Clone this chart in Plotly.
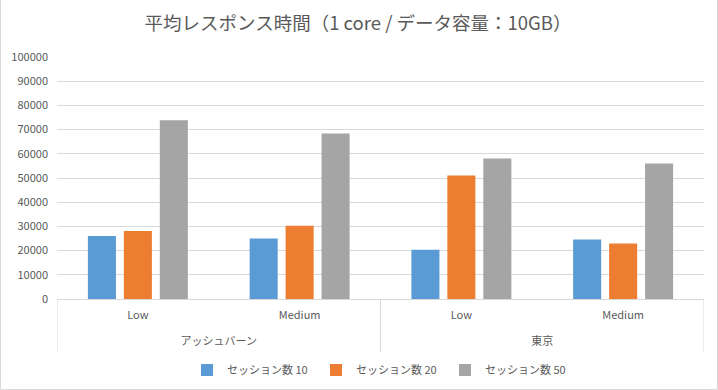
import plotly.graph_objects as go

regions = ["アッシュバーン", "アッシュバーン", "東京", "東京"]
loads = ["Low", "Medium", "Low", "Medium"]
series_names = ["セッション数 10", "セッション数 20", "セッション数 50"]
sess10 = [26000, 25000, 20400, 24600]
sess20 = [28100, 30300, 51000, 22900]
sess50 = [73900, 68400, 58100, 56000]
colors = ["#5B9BD5", "#ED7D31", "#A5A5A5"]
y_ticks = [0, 10000, 20000, 30000, 40000, 50000, 60000, 70000, 80000, 90000, 100000]

W, H = 718, 390
L, R, T, B = 57, 14, 57, 91
pw, ph = W - L - R, H - T - B

cats = [f"{r}|{l}" for r, l in zip(regions, loads)]
group_names = list(dict.fromkeys(regions))
group_pos = [sum(i for i, r in enumerate(regions) if r == g) / regions.count(g) for g in group_names]
bounds = [-0.5] + [i + 0.5 for i in range(len(regions) - 1) if regions[i] != regions[i + 1]] + [len(regions) - 0.5]

fig = go.Figure()
for name, vals, c in zip(series_names, [sess10, sess20, sess50], colors):
    fig.add_trace(go.Bar(x=cats, y=vals, name=name, marker=dict(color=c, line=dict(width=0))))
# invisible helper trace so the group-label axis is drawn
fig.add_trace(go.Scatter(x=group_pos, y=[0] * len(group_pos), xaxis="x2", mode="markers",
                         marker=dict(opacity=0), showlegend=False, hoverinfo="skip"))

font = "Noto Sans CJK JP, Noto Sans, sans-serif"
tf = dict(family=font, size=11, color="#595959")
fig.update_layout(
    width=W, height=H,
    margin=dict(l=L, r=R, t=T, b=B, autoexpand=False),
    paper_bgcolor="white", plot_bgcolor="white",
    barmode="group", bargap=0.333, bargroupgap=0.22,
    font=tf,
    title=dict(text="平均レスポンス時間（1 core / データ容量：10GB）",
               x=358 / W, xanchor="center", y=1 - 24 / H, yanchor="middle",
               font=dict(family=font, size=18.5, color="#595959")),
    showlegend=True,
    legend=dict(orientation="h", x=0.5, xanchor="center", y=-(370 - 299) / ph, yanchor="middle",
                font=tf, itemwidth=30, traceorder="normal",
                entrywidth=84, entrywidthmode="pixels"),
    yaxis=dict(range=[0, 100000], tickvals=y_ticks, ticktext=[str(v) for v in y_ticks],
               showgrid=True, gridcolor="#D9D9D9", gridwidth=1, automargin=False,
               zeroline=False, showline=False, ticks="", ticklabelstandoff=8, tickfont=tf),
    xaxis=dict(type="category", categoryorder="array", categoryarray=cats,
               range=[-0.5, len(cats) - 0.5], tickvals=cats, ticktext=loads,
               showline=True, linecolor="#D9D9D9", linewidth=1, automargin=False,
               ticks="", ticklabelstandoff=6, tickfont=tf, showgrid=False),
    xaxis2=dict(type="linear", overlaying="x", side="bottom", anchor="y",
                range=[-0.5, len(cats) - 0.5], tickvals=group_pos, ticktext=group_names,
                showline=False, showgrid=False, zeroline=False, ticks="", automargin=False,
                ticklabelstandoff=34, tickfont=tf),
)
for bx in bounds:
    fig.add_shape(type="line", xref="x2", yref="paper", x0=bx, x1=bx, y0=0, y1=-(352 - 299) / ph,
                  line=dict(color="#D9D9D9", width=1))
fig.add_shape(type="rect", xref="paper", yref="paper",
              x0=(0.5 - L) / pw, x1=(W - 0.5 - L) / pw,
              y0=-(H - 0.5 - T - ph) / ph, y1=(H - 0.5 - T) / ph,
              line=dict(color="#D9D9D9", width=1), fillcolor="rgba(0,0,0,0)", layer="below")
fig.write_html("out.html", config={"displayModeBar": False},
               post_script="document.body.style.margin='0';")
